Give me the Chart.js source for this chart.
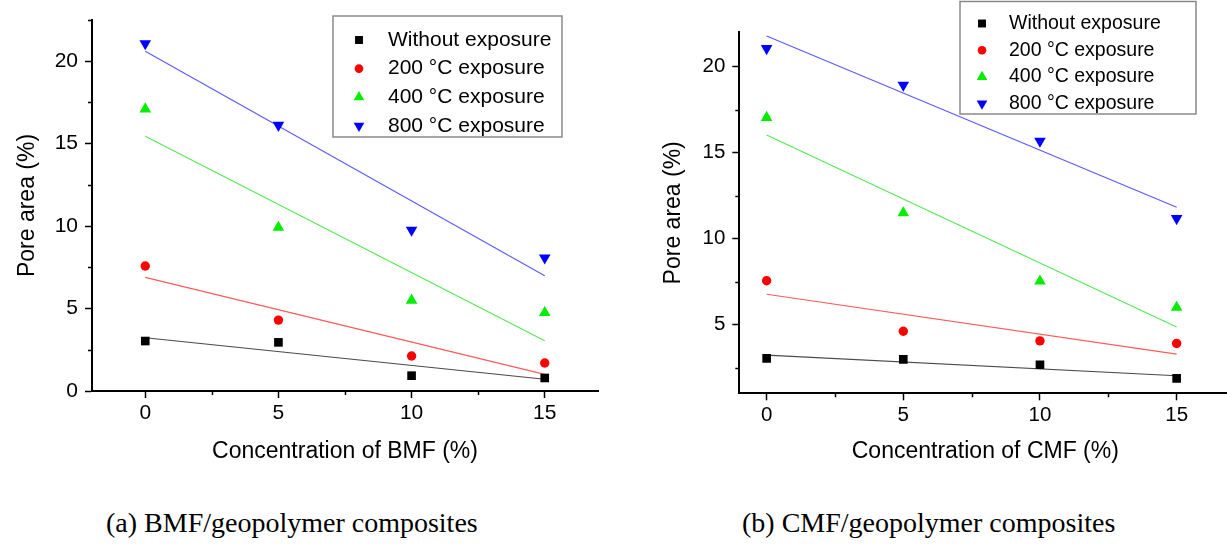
<!DOCTYPE html>
<html><head><meta charset="utf-8">
<script src="https://cdn.jsdelivr.net/npm/chart.js@4.4.0/dist/chart.umd.min.js"></script>
<style>
html,body{margin:0;padding:0;background:#fff;width:1227px;height:546px;overflow:hidden;position:relative}
canvas{position:absolute;top:0}
#cA{left:0}
#cB{left:620px}
.cap{position:absolute;font-family:'Liberation Serif','Times New Roman',serif;font-size:28px;line-height:28px;color:#000;white-space:nowrap;top:509px}
</style></head><body>
<canvas id="cA" width="620" height="480"></canvas>
<canvas id="cB" width="620" height="480"></canvas>
<div class="cap" style="left:106px">(a) BMF/geopolymer composites</div>
<div class="cap" style="left:742px">(b) CMF/geopolymer composites</div>
<script>
// ---- data ----
const seriesNames = ['Without exposure', '200 °C exposure', '400 °C exposure', '800 °C exposure'];
const concentrations = [0, 5, 10, 15];
const fitX = [0, 15];

const bmfWithout = [3.03, 2.95, 0.93, 0.79];
const bmf200 = [7.58, 4.30, 2.12, 1.70];
const bmf400 = [17.10, 9.92, 5.50, 4.75];
const bmf800 = [21.07, 16.12, 9.76, 8.08];
const bmfFitStart = [3.23, 6.89, 15.45, 20.60];
const bmfFitEnd = [0.71, 1.01, 3.05, 6.99];

const cmfWithout = [3.03, 2.97, 2.66, 1.87];
const cmf200 = [7.55, 4.61, 4.05, 3.90];
const cmf400 = [17.04, 11.49, 7.52, 5.99];
const cmf800 = [21.06, 18.93, 15.67, 11.17];
const cmfFitStart = [3.22, 6.76, 16.02, 21.79];
const cmfFitEnd = [2.02, 3.28, 4.86, 11.82];

const xTickValues = [0, 5, 10, 15];
const bmfYTickValues = [0, 5, 10, 15, 20];
const cmfYTickValues = [5, 10, 15, 20];

// ---- styles ----
const markerStyles = [
  {pointStyle: 'rect', rotation: 0, radius: 6.1, color: '#000000'},
  {pointStyle: 'circle', rotation: 0, radius: 4.7, color: '#ff0000'},
  {pointStyle: 'triangle', rotation: 0, radius: 6.7, color: '#00ee00'},
  {pointStyle: 'triangle', rotation: 180, radius: 6.7, color: '#0000ff'}
];
const fitColors = ['#4a4a4a', '#ff5a5a', '#55e855', '#5a5aff'];
const FONT = '"Liberation Sans", Arial, Helvetica, sans-serif';
Chart.defaults.font.family = FONT;
Chart.defaults.color = '#000';

const minorTicks = {
  id: 'minorTicks',
  afterDraw(chart, args, opts) {
    const ctx = chart.ctx;
    ctx.save();
    ctx.strokeStyle = '#000';
    ctx.lineWidth = 1.5;
    ['x', 'y'].forEach(id => {
      const s = chart.scales[id];
      const vals = s.ticks.map(t => t.value);
      const step = vals[1] - vals[0];
      for (let v = vals[0] - step / 2; v <= s.max + 1e-9; v += step) {
        if (v < s.min) continue;
        const p = Math.round(s.getPixelForValue(v)) + 0.5;
        ctx.beginPath();
        if (id === 'x') { ctx.moveTo(p, s.top); ctx.lineTo(p, s.top + opts.len); }
        else { ctx.moveTo(s.right, p); ctx.lineTo(s.right - opts.len, p); }
        ctx.stroke();
      }
    });
    ctx.restore();
  }
};

const boxLegend = {
  id: 'boxLegend',
  afterDraw(chart, args, o) {
    const ctx = chart.ctx;
    ctx.save();
    ctx.fillStyle = '#fff';
    ctx.fillRect(o.x, o.y, o.w, o.h);
    ctx.strokeStyle = '#8a8a8a';
    ctx.lineWidth = 1.5;
    ctx.strokeRect(o.x, o.y, o.w, o.h);
    ctx.font = o.fontSize + 'px ' + FONT;
    ctx.textBaseline = 'middle';
    ctx.textAlign = 'left';
    let row = 0;
    chart.data.datasets.forEach(ds => {
      if (ds.isFit) return;
      const y = o.y + o.firstRow + row * o.rowGap;
      ctx.fillStyle = ds.backgroundColor;
      Chart.helpers.drawPoint(ctx, {pointStyle: ds.pointStyle, rotation: ds.rotation, radius: ds.pointRadius * 0.92, borderWidth: 0}, o.x + o.markerX, y);
      ctx.fillStyle = '#000';
      ctx.fillText(ds.label, o.x + o.textX, y);
      row++;
    });
    ctx.restore();
  }
};

function makeChart(id, series, fitStart, fitEnd, c) {
  const datasets = [];
  series.forEach((vals, i) => {
    const m = markerStyles[i];
    datasets.push({
      label: seriesNames[i],
      data: concentrations.map((x, k) => ({x: x, y: vals[k]})),
      pointStyle: m.pointStyle, rotation: m.rotation, pointRadius: m.radius,
      backgroundColor: m.color, borderColor: m.color, pointBorderWidth: 0,
      showLine: false, order: 0
    });
  });
  series.forEach((vals, i) => {
    datasets.push({
      label: seriesNames[i] + ' fit', isFit: true,
      data: [{x: fitX[0], y: fitStart[i]}, {x: fitX[1], y: fitEnd[i]}],
      showLine: true, pointRadius: 0, borderColor: fitColors[i], borderWidth: 1.1,
      backgroundColor: fitColors[i], order: 1
    });
  });
  const axisCommon = {
    grid: {display: true, drawOnChartArea: false, drawTicks: true, tickLength: 7, tickWidth: 1.5, tickColor: '#000'},
    border: {display: true, color: '#000', width: 2}
  };
  return new Chart(document.getElementById(id), {
    type: 'scatter',
    data: {datasets},
    options: {
      responsive: false, animation: false,
      layout: {padding: c.pad},
      plugins: {legend: {display: false}, tooltip: {enabled: false}, minorTicks: {len: 4}, boxLegend: c.legend},
      scales: {
        x: Object.assign({}, axisCommon, {
          type: 'linear', min: c.xMin, max: c.xMax,
          afterBuildTicks: s => { s.ticks = xTickValues.map(v => ({value: v})); },
          afterFit: s => { s.height = c.xHeight; },
          ticks: {font: {size: c.tickFont}, padding: 3, autoSkip: false, maxRotation: 0, color: '#000'},
          title: {display: true, text: c.xTitle, font: {size: 23}, color: '#000', padding: {top: 0, bottom: c.xTitlePad}}
        }),
        y: Object.assign({}, axisCommon, {
          type: 'linear', min: c.yMin, max: c.yMax,
          afterBuildTicks: s => { s.ticks = c.yTicks.map(v => ({value: v})); },
          afterFit: s => { s.width = c.yWidth; },
          ticks: {font: {size: c.tickFont}, padding: 7, autoSkip: false, color: '#000'},
          title: {display: true, text: 'Pore area (%)', font: {size: 23}, color: '#000', padding: {top: c.yTitlePad, bottom: 0}}
        })
      }
    },
    plugins: [minorTicks, boxLegend]
  });
}

makeChart('cA', [bmfWithout, bmf200, bmf400, bmf800], bmfFitStart, bmfFitEnd, {
  pad: {left: 0, right: 22, top: 20, bottom: 0},
  xMin: -2, xMax: 17, yMin: 0, yMax: 22.5, yTicks: bmfYTickValues,
  xHeight: 89, yWidth: 92, tickFont: 21, xTitle: 'Concentration of BMF (%)',
  xTitlePad: 14.2, yTitlePad: 14.2,
  legend: {x: 333, y: 16, w: 229, h: 121, fontSize: 21, firstRow: 24, rowGap: 28.6, markerX: 26, textX: 55}
});

makeChart('cB', [cmfWithout, cmf200, cmf400, cmf800], cmfFitStart, cmfFitEnd, {
  pad: {left: 0, right: 8.7, top: 32.3, bottom: 0},
  xMin: -1, xMax: 17, yMin: 1, yMax: 22, yTicks: cmfYTickValues,
  xHeight: 86.7, yWidth: 119.3, tickFont: 20.5, xTitle: 'Concentration of CMF (%)',
  xTitlePad: 14.5, yTitlePad: 39.5,
  legend: {x: 340, y: 1.5, w: 236, h: 112.5, fontSize: 19.5, firstRow: 22, rowGap: 26.7, markerX: 22, textX: 49}
});
</script>
</body></html>
